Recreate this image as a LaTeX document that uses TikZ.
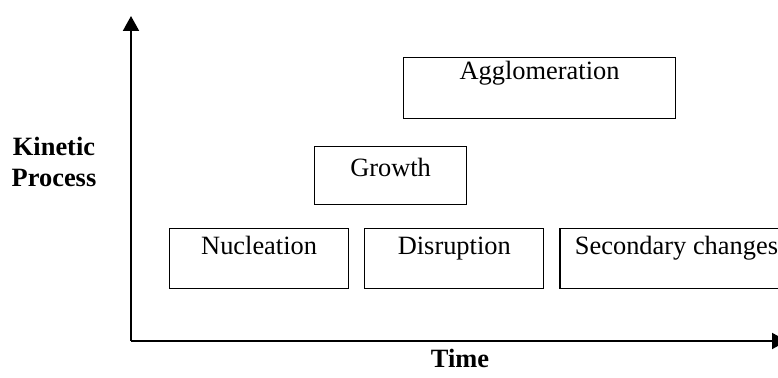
\documentclass[tikz,border=0pt]{standalone}
\usepackage{fontspec}
\setmainfont{Liberation Serif}
\usetikzlibrary{arrows.meta, positioning}

\tikzset{
  stagebox/.style={draw, line width=0.6pt, inner xsep=0pt, inner ysep=0pt,
    minimum height=30pt, text height=13pt, text depth=17pt, anchor=north west},
  axis/.style={line width=1pt, -{Triangle[length=7.5pt,width=8pt]}},
  axislabel/.style={font=\fontsize{13.2}{15.5}\selectfont\bfseries, align=center}
}

\begin{document}
\begin{tikzpicture}[x=0.5pt, y=-0.5pt, font=\fontsize{13.2}{15.5}\selectfont]
\clip (0,0) rectangle (778,378);

% Axes (tips run past the frame)
\coordinate (origin) at (131,341);
\coordinate (ytip) at (131,16);
\coordinate (xtip) at (787,341);
\draw[axis] (origin) -- (ytip);
\draw[axis] (origin) -- (xtip);

% Bottom row of stages
\node[stagebox, minimum width=89.5pt] (nucl) at (169,228) {Nucleation};
\node[stagebox, minimum width=89.5pt, right=7.5pt of nucl] (disr) {Disruption};
\node[stagebox, minimum width=116.5pt, right=7.5pt of disr] (second) {Secondary changes};

% Upper stages
\node[stagebox, minimum width=76pt, minimum height=29pt,
  text height=15pt, text depth=14pt] (growth) at (314,146) {Growth};
\node[stagebox, minimum width=136pt, minimum height=30.5pt,
  text height=11pt, text depth=19.5pt] (agglo) at (403,57) {Agglomeration};

% Labels
\node[axislabel] (kinetic) at (54,162) {Kinetic\\Process};
\node[axislabel, anchor=base] (time) at (460,368) {Time};

\end{tikzpicture}
\end{document}
